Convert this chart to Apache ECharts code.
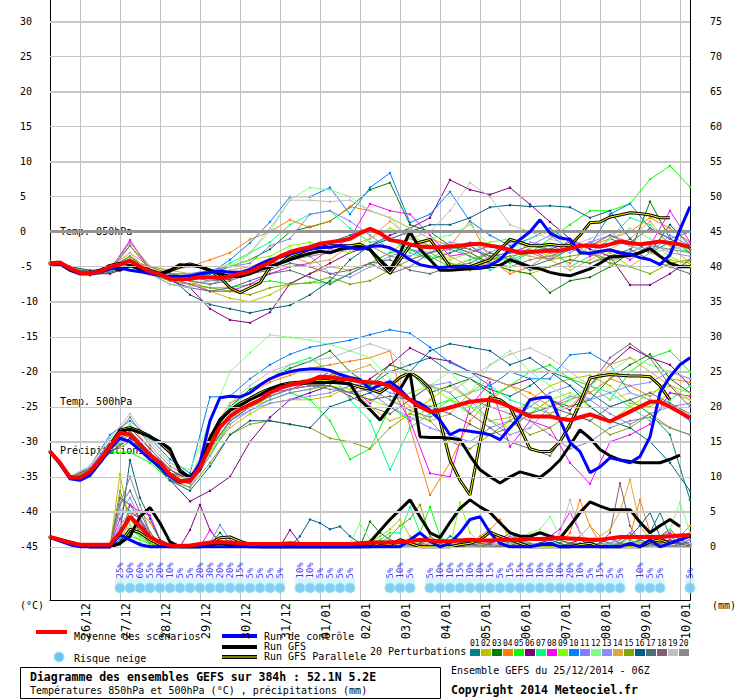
<!DOCTYPE html>
<html>
<head>
<meta charset="utf-8">
<script src="https://cdn.jsdelivr.net/npm/echarts@6/dist/echarts.min.js"></script>
<style>
  html, body { margin: 0; padding: 0; background: #fff; }
  #chart { width: 740px; height: 700px; }
</style>
</head>
<body>
<div id="chart"></div>
<script>
// run GEFS 25/12/2014 06Z, one point every 6h (0h .. 384h)
var dayLabels = ['26/12','27/12','28/12','29/12','30/12','31/12','01/01','02/01','03/01','04/01','05/01','06/01','07/01','08/01','09/01','10/01'];
var tempTicks = [-45,-40,-35,-30,-25,-20,-15,-10,-5,0,5,10,15,20,25,30];
var precipTicks = [0,5,10,15,20,25,30,35,40,45,50,55,60,65,70,75];

var pertColors = ['#008080','#c0c000','#008000','#ff8000','#00ff00','#800080','#00ff80','#ff00ff','#80ff00','#0080ff',
                  '#8080ff','#80ff80','#8c8cff','#e0a840','#80a800','#005f80','#507078','#806070','#c0c0c0','#888888'];

// ---- 6-hourly lines ----
var t850Mean = [-4.5,-4.4,-5.2, -5.9,-5.9,-5.7,-5.0, -4.7,-4.1,-5.0,-5.7, -6.1,-6.7,-6.8,-6.7, -6.5,-6.5,-6.6,-6.4, -6.0,-5.7,-5.0,-4.4, -3.5,-2.9,-2.5,-2.2, -1.7,-1.5,-1.3,-1.0, -0.2,0.4,-0.2,-1.2, -1.4,-1.8,-2.1,-2.2, -2.2,-2.1,-2.0,-1.8, -1.7,-2.0,-2.2,-2.6, -3.0,-2.9,-2.8,-2.7, -2.7,-2.4,-2.0,-2.0, -2.1,-1.8,-1.4,-1.6, -1.8,-1.6,-1.4,-1.6, -1.8,-2.2];
var t850Ctrl = [-4.6,-4.6,-5.4, -6.0,-6.0,-5.8,-5.3, -5.2,-5.5,-5.7,-6.0, -6.2,-6.4,-6.4,-6.3, -6.0,-5.8,-5.6,-5.8, -5.8,-5.4,-4.6,-4.0, -3.6,-3.2,-2.8,-2.5, -2.3,-2.2,-2.0,-2.3, -2.5,-2.1,-2.0,-2.3, -3.0,-4.0,-4.7,-5.0, -5.1,-5.0,-5.0,-5.0, -5.1,-4.8,-4.0,-2.5, -1.1,0.0,1.7,-0.2, -0.9,-1.1,-3.0,-3.1, -2.8,-2.6,-3.0,-3.2, -3.7,-4.0,-4.7,-3.3, 0.3,3.6];
var t850Gfs = [-4.6,-4.6,-5.5, -6.0,-6.0,-5.7,-5.0, -5.5,-4.8,-5.3,-5.8, -6.0,-5.5,-4.7,-4.8, -5.0,-5.5,-6.0,-6.4, -6.4,-6.0,-5.4,-5.0, -4.5,-4.0,-3.5,-3.1, -2.8,-3.0,-2.5,-2.3, -2.1,-2.6,-4.0,-5.4, -3.0,0.0,-2.5,-4.0, -5.5,-5.5,-5.4,-5.3, -5.2,-5.0,-4.8,-4.0, -4.5,-5.0,-5.3,-5.8, -6.1,-6.3,-5.8,-5.3, -4.5,-3.6,-3.5,-3.4, -3.0,-2.4,-3.5,-4.5, -5.0,-5.0];
var t850GfsPara = [-4.5,-4.6,-5.3, -5.8,-5.8,-5.5,-4.8, -4.5,-4.5,-5.0,-5.5, -6.0,-5.6,-5.0,-4.6, -5.0,-5.5,-6.5,-8.0, -8.7,-8.0,-7.3,-5.0, -4.5,-3.5,-3.0,-2.5, -2.2,-2.0,-2.0,-2.0, -1.8,-2.5,-4.5,-5.9, -4.0,-2.0,-1.5,-1.1, -3.0,-5.0,-5.0,-5.0, -4.5,-4.0,-2.5,-1.1, -1.5,-2.0,-2.0,-1.8, -2.0,-2.0,-0.5,1.3, 1.4,2.1,2.4,2.7, 2.6,2.4,2.0,2.0, null,null];

var t500Mean = [-31.4,-33.0,-35.1, -35.1,-34.3,-32.6,-30.7, -28.7,-29.0,-30.4,-31.9, -33.0,-34.7,-35.6,-35.6, -33.7,-30.7,-27.9,-26.4, -25.4,-24.7,-24.0,-23.0, -22.3,-21.9,-21.6,-21.3, -20.7,-20.8,-21.0,-21.1, -21.4,-21.5,-21.6,-22.1, -23.0,-24.0,-25.0,-25.7, -25.5,-25.1,-24.7,-24.3, -24.1,-24.0,-24.4,-25.0, -25.7,-26.4,-26.4,-26.4, -26.7,-26.9,-26.5,-26.1, -26.6,-27.1,-26.4,-25.7, -25.0,-24.3,-24.3,-25.0, -25.8,-26.6];
var t500Ctrl = [-31.4,-33.2,-35.3, -35.5,-34.8,-33.0,-31.0, -29.5,-30.0,-31.2,-32.5, -33.6,-35.0,-35.8,-35.5, -33.0,-27.0,-23.7,-23.5, -23.6,-23.0,-21.9,-21.0, -20.4,-20.0,-19.7,-19.6, -19.6,-19.8,-20.4,-20.8, -21.1,-22.5,-21.9,-21.4, -22.5,-24.0,-24.5,-25.5, -26.9,-29.0,-28.3,-28.5, -28.7,-29.0,-29.7,-28.0, -26.4,-24.0,-23.7,-23.6, -26.9,-30.1,-31.4,-34.4, -33.6,-32.3,-32.6,-33.0, -32.1,-29.3,-23.0,-20.7, -19.0,-18.0];
var t500Gfs = [-31.4,-33.0,-35.0, -35.3,-34.5,-32.8,-30.8, -28.5,-28.2,-28.7,-29.3, -30.0,-31.0,-34.3,-35.0, -33.5,-29.5,-26.8,-25.5, -24.8,-24.0,-23.3,-22.5, -22.0,-21.8,-21.7,-21.6, -21.6,-21.5,-21.6,-21.7, -24.0,-25.4,-26.9,-25.0, -22.5,-20.1,-29.3,-29.4, -29.4,-29.5,-29.7,-32.0, -34.0,-35.0,-35.9,-35.0, -34.3,-34.7,-35.1,-34.0, -32.6,-30.5,-28.3,-29.5, -31.1,-32.0,-32.6,-32.8, -33.0,-33.0,-33.0,-32.5, -31.9,null];
var t500GfsPara = [-31.4,-33.1,-35.0, -35.3,-34.5,-32.7,-30.5, -28.3,-28.0,-28.5,-29.2, -30.2,-31.5,-34.0,-35.2, -34.0,-30.0,-27.0,-25.5, -24.5,-23.8,-23.0,-22.4, -21.9,-21.6,-21.5,-21.3, -21.2,-21.3,-21.5,-21.8, -22.2,-22.5,-23.0,-22.0, -20.8,-20.1,-21.0,-22.4, -27.0,-32.6,-35.5,-37.6, -30.0,-23.7,-24.0,-25.0, -28.0,-31.0,-31.4,-31.4, -30.0,-27.5,-24.4,-20.9, -20.6,-20.4,-20.5,-20.6, -20.6,-20.7,-22.0,-24.0, null,null];

var precMean = [1.4,1.0,0.6, 0.3,0.3,0.3,0.3, 2.0,4.3,2.9,1.4, 0.6,0.2,0.1,0.2, 0.4,0.6,0.7,0.6, 0.5,0.4,0.4,0.4, 0.4,0.5,0.4,0.4, 0.4,0.4,0.4,0.4, 0.5,0.6,0.6,0.6, 0.7,0.8,1.0,0.9, 0.8,0.8,0.9,1.0, 0.9,0.9,1.0,1.0, 1.0,1.1,1.1,1.2, 1.3,1.2,1.1,1.0, 1.0,1.2,1.4,1.4, 1.4,1.4,1.4,1.5, 1.6,1.7];
var precCtrl = [1.3,0.8,0.3, 0,0,0,0, 1.7,1.0,0.3,0, 0,0,0,0, 0,0,0,0, 0,0,0,0, 0,0,0,0, 0,0,0,0, 0,0,0,0, 0,1.0,2.0,0.8, 0,0.5,2.0,3.9, 4.3,2.0,0.5,0, 0,0,0.3,0.5, 0,0,0,0, 0,0,0,0.5, 0,1.0,0,0.5, 1.0,1.5];
var precGfs = [1.4,1.0,0.7, 0.3,0,0,0, 0.5,1.5,4.3,5.6, 3.4,0.7,0,0, 0,0.3,0.5,0.3, 0.2,0,0,0, 0,0,0,0, 0,0,0,0, 0,0.7,2.3,3.9, 5.3,6.7,4.3,2.0, 1.3,3.5,5.5,6.7, 5.7,4.9,3.4,2.0, 1.5,1.5,2.0,1.5, 1.2,3.0,4.9,6.4, 5.8,5.3,5.3,5.3, 3.5,2.0,3.0,3.9, 2.9,null];
var precGfsPara = [1.4,0.9,0.5, 0.2,0,0,0, 0.5,2.5,2.0,1.0, 0.3,0,0,0, 0,0.5,1.3,1.4, 0.8,0.3,0,0, 0,0,0,0, 0,0,0,0, 0,0,0.5,0.3, 1.0,0.5,0,0, 0,0,0.3,0.5, 1.0,2.1,1.5,1.0, 0.5,0,0,0, 0,0,0.3,0.5, 0,0,0,0, 0,0.7,1.0,0.5, null,null];

// snow risk (%) per 6h step, null = none
var snowRisk = [null,null,null, null,null,null,null, 25,50,60,55, 20,10,5,5, 20,30,20,20, 15,5,5,5, 5,null,10,10, 5,5,5,5, null,null,null,5, 10,5,null,5, 10,10,15,10, 10,15,5,15, 15,10,10,10, 10,20,10,5, 15,5,5,null, 10,5,5,null, null,5];

// ---- 20 perturbations, temperatures every 12h ----
var t850Pert = [
  [-4.5,-5.0,-5.8,-5.2,-3.5,-5.5,-6.0,-6.5,-7.0,-6.8,-5.5,-4.5,-3.0,-2.0,-1.5,-0.5,0.5,-1.0,-2.5,-4.0,-3.0,-2.0,-4.0,-3.5,-5.0,-4.0,-2.5,-3.0,-1.0,-2.0,-3.0,-1.5,-2.5],
  [-4.4,-5.1,-6.0,-5.0,-2.0,-5.0,-6.5,-7.0,-8.5,-9.5,-10.0,-9.0,-7.5,-6.0,-5.0,-5.5,-4.5,-3.0,-1.0,-2.0,-4.5,-5.0,-3.5,-5.5,-6.0,-5.0,-4.0,-4.5,-3.0,-5.0,-3.0,-4.0,-4.5],
  [-4.4,-5.2,-6.0,-5.5,-4.5,-5.5,-6.0,-6.5,-6.0,-5.0,-4.0,-2.5,0.0,0.7,1.5,3.5,6.0,7.0,1.0,0.0,-2.0,-3.0,-4.5,-5.5,-6.0,-8.7,-7.0,-6.5,-5.0,-3.0,4.3,-1.0,-3.0],
  [-4.6,-5.0,-5.7,-5.4,-4.0,-5.0,-5.5,-5.0,-4.0,-3.0,-1.1,0.0,1.7,0.6,1.5,3.6,3.0,2.0,0.5,-1.0,-2.0,1.5,-4.0,-6.0,-5.0,-3.0,-4.5,-2.0,-1.0,0.0,2.0,0.5,-1.5],
  [-4.4,-5.0,-6.2,-5.8,-5.0,-6.0,-7.0,-7.5,-8.0,-8.0,-7.5,-7.0,-7.5,-7.3,-7.3,-6.0,-4.5,-3.0,-2.5,-3.5,-5.0,-4.0,-3.0,-4.5,-3.0,-1.0,1.0,3.0,3.0,4.0,7.5,9.4,6.4],
  [-4.5,-5.2,-6.0,-6.0,-5.0,-6.0,-7.0,-8.0,-11.0,-12.6,-13.0,-11.5,-7.4,-6.0,-4.5,-3.0,-2.0,-0.5,0.5,2.0,7.4,6.0,5.3,6.3,3.9,1.4,-1.0,-2.5,-3.5,-7.6,-7.6,-6.0,-4.0],
  [-4.5,-5.1,-5.8,-5.6,-4.5,-5.5,-6.5,-7.0,-6.0,-4.5,-3.0,-1.5,1.0,2.5,3.0,0.5,-1.5,-1.0,-3.0,-4.0,-2.0,-3.5,-5.5,-4.0,-3.0,-2.0,-5.0,-3.5,-1.0,2.0,1.0,-2.0,-3.0],
  [-4.6,-5.2,-6.0,-5.5,-1.2,-5.5,-6.5,-7.5,-8.5,-8.5,-7.5,-6.0,-5.0,-4.5,-2.5,-1.0,4.0,3.0,2.5,-0.5,-3.5,-3.0,-2.0,-3.0,-2.5,-4.0,-1.0,-3.5,-2.5,-4.0,-2.0,3.0,-1.5],
  [-4.4,-5.0,-5.8,-5.3,-4.5,-5.0,-6.0,-6.0,-5.5,-5.0,-4.0,-3.5,-2.0,-1.5,-2.5,-3.0,-1.0,0.5,-0.5,-2.0,-4.0,-3.0,-1.5,-1.0,-2.5,-3.5,-2.0,-3.0,-4.5,-3.0,-1.5,-3.5,-5.0],
  [-4.5,-5.0,-5.8,-5.5,-4.5,-5.5,-6.5,-6.5,-6.0,-4.0,-1.6,1.4,5.0,5.0,6.3,2.5,6.3,8.4,1.3,2.5,5.7,1.5,-0.5,-2.0,-1.0,0.5,-1.5,-2.0,2.5,4.0,0.5,-1.0,0.0],
  [-4.6,-5.1,-5.9,-5.5,-4.0,-5.5,-6.0,-6.0,-5.5,-5.0,-4.5,-2.0,-1.0,2.5,3.0,1.5,-0.5,-2.5,-3.5,-2.0,-2.5,-1.5,-3.0,-1.5,-2.0,-0.5,-2.5,-1.5,-0.5,-2.0,-3.0,-0.5,-2.0],
  [-4.3,-5.0,-6.0,-5.5,-4.0,-5.5,-6.5,-7.0,-6.5,-5.0,-3.0,0.0,4.6,6.3,6.0,5.0,3.0,2.0,0.5,-1.0,-0.5,1.0,-2.0,-2.5,-1.0,0.0,-2.0,-3.0,-1.0,0.5,-1.0,-2.0,-2.5],
  [-4.5,-5.2,-6.0,-5.6,-4.5,-6.0,-7.0,-7.5,-7.0,-6.5,-5.5,-4.5,-3.0,-3.5,-6.0,-6.5,-5.0,-3.5,-2.5,-3.0,-1.5,-2.0,-3.5,-4.0,-1.5,-2.0,-3.0,-1.5,-2.5,-3.0,-1.5,-3.0,-3.5],
  [-4.5,-5.0,-5.7,-5.0,-3.0,-5.0,-5.5,-6.0,-6.5,-5.5,-5.0,-4.0,-3.5,-4.5,-4.0,-2.0,-1.0,1.5,-1.0,-2.0,-3.5,-5.0,-4.5,-3.0,-3.5,-4.0,-5.5,-4.0,-2.5,-1.0,1.5,-2.0,-4.5],
  [-4.4,-5.1,-6.0,-5.5,-3.5,-6.0,-7.0,-7.5,-8.0,-8.5,-9.0,-8.0,-7.5,-7.3,-6.5,-7.5,-7.0,-5.5,-4.0,-3.0,-4.5,-5.5,-4.0,-3.5,-3.0,-4.0,-3.5,-3.0,-4.5,-5.0,-6.0,-4.5,-4.0],
  [-4.5,-5.0,-5.5,-5.5,-5.0,-5.5,-6.5,-9.0,-10.4,-11.0,-11.6,-11.0,-10.5,-9.0,-7.0,-4.0,-2.0,-1.0,0.0,1.0,1.0,2.0,3.5,3.8,3.6,3.7,3.5,2.0,3.0,-1.0,-3.0,1.0,-2.0],
  [-4.6,-5.2,-6.2,-5.8,-5.0,-6.0,-7.5,-8.0,-8.5,-8.0,-7.0,-6.0,-5.5,-6.5,-7.5,-6.0,-4.5,-4.0,-5.5,-6.0,-5.0,-4.5,-3.0,-4.0,-5.5,-5.0,-4.0,-4.5,-3.5,-2.5,-4.0,-5.0,-6.0],
  [-4.5,-5.1,-6.0,-5.6,-2.0,-5.5,-6.5,-7.0,-7.5,-7.0,-6.0,-5.5,-4.5,-5.0,-6.0,-5.5,-4.5,-6.0,-5.0,-3.0,-2.0,-2.5,-3.5,-3.0,-2.0,-2.5,-1.5,-2.0,-0.5,-1.5,0.5,-1.0,-2.5],
  [-4.3,-5.0,-6.0,-5.5,-3.0,-6.0,-7.5,-8.0,-7.0,-6.0,-3.0,0.5,4.5,4.5,4.3,4.5,3.0,2.0,-1.0,0.0,3.0,7.0,5.0,1.0,0.0,-1.0,-2.0,-1.0,0.0,-2.0,-3.0,-2.5,-2.0],
  [-4.5,-5.1,-5.9,-5.4,-1.5,-5.0,-6.0,-7.0,-7.5,-6.5,-5.5,-4.5,-4.0,-3.5,-3.0,-2.5,-2.0,-3.5,-4.0,-3.0,-2.5,-3.5,-4.5,-5.0,-4.0,-3.5,-2.5,-3.0,-4.0,-3.5,-2.0,-2.5,-3.0]
];
var t500Pert = [
  [-31.4,-35.2,-34.2,-30.5,-28.5,-31.5,-34.5,-35.5,-31,-27,-25,-23,-22,-21.5,-20.5,-21,-22,-20,-19,-18,-20,-21,-22.5,-23.5,-22,-20,-21,-23,-25,-24,-26,-29,-38.3],
  [-31.4,-35,-34,-30,-27.5,-31,-34,-35.5,-31.5,-28,-26,-24.5,-24,-24,-23.5,-22,-25,-27,-26,-24,-22,-24,-27,-26.5,-24,-22,-21,-20.5,-22,-24.5,-25,-23,-24],
  [-31.4,-35.2,-34.5,-31,-29.5,-32,-35,-36,-30,-25,-22.5,-21,-19.5,-18.5,-17,-20,-22,-19,-20,-23,-22,-21,-23,-25,-26,-24,-25,-24,-21,-19,-17.5,-21,-23],
  [-31.4,-35,-34.2,-30.8,-28.5,-31.5,-34,-35.5,-29,-24.5,-23,-21.5,-20.5,-19.5,-19,-18.5,-18,-17,-28,-37.6,-33,-27,-24,-22,-23,-25,-24,-23,-21,-22,-23.5,-21,-21.5],
  [-31.4,-35.3,-34.8,-31.5,-31.5,-33,-35.5,-36,-32,-27,-25,-24,-23,-24,-27,-32.5,-31,-25,-27,-25,-24,-26,-23.5,-22,-20,-19,-21,-22,-24,-20,-18,-17,-20],
  [-31.4,-35.2,-34,-31,-29.5,-32,-35.5,-38.5,-37,-35,-30,-26.5,-24,-23,-22,-23,-21,-19,-16.6,-18,-18.5,-20,-21,-22,-21,-24,-25.5,-22,-19,-16.5,-18,-19,-22],
  [-31.4,-35,-34,-30.5,-29,-31.5,-34.5,-35,-30,-25,-23,-21,-19,-18,-20,-24,-27,-34,-28,-26,-24,-23,-22,-24,-25,-26,-24,-22,-23,-25,-27,-24,-22],
  [-31.4,-35,-33.8,-30,-28,-31,-34,-35.5,-30.5,-26,-24,-23,-22.5,-21.5,-20,-22,-24.5,-22,-27,-34.5,-35,-25,-21.5,-30.7,-27,-28,-33,-36,-30,-29,-27.5,-23,-23.5],
  [-31.4,-35.1,-34.3,-31,-29.5,-32.5,-35,-36,-31.5,-27,-25,-24,-23,-22.5,-22,-22.5,-24,-25,-23,-22,-24,-25,-27,-28,-26,-24,-23,-25,-27,-25,-23,-22,-24],
  [-31.4,-35,-33.5,-29,-27,-29.5,-32.5,-34.5,-23.6,-23.5,-21,-19,-17.5,-16.5,-16,-15.5,-14.7,-14,-14.5,-16.5,-18.7,-20,-22,-20,-21,-21,-17.6,-17.3,-19,-23,-24,-25,-27],
  [-31.4,-35.2,-34.5,-31,-29,-32,-35,-36,-31,-27,-25.5,-24,-23,-22.5,-21.5,-21.5,-23,-25,-26.5,-28,-29,-30,-28,-27,-25,-23,-22,-24,-26,-27.5,-26,-25,-24.5],
  [-31.4,-35,-33.5,-29.5,-27.5,-30,-33,-34,-27,-20,-17.3,-14.7,-15.1,-15.5,-16.1,-17,-18,-21,-24,-22,-20,-23,-19,-17,-20,-22,-24,-22,-20,-18,-19,-20,-21],
  [-31.4,-35.3,-34.6,-31.5,-29.5,-32.5,-35.5,-36.5,-32,-27.5,-25.5,-24.5,-24,-23.5,-23,-22,-21.5,-23,-24,-22,-21.5,-24,-27,-29,-28,-25,-23.5,-24,-23,-22,-21.5,-20,-21],
  [-31.4,-35,-34.2,-30.5,-29,-32,-34.5,-35.5,-30.5,-26,-24,-22.5,-21.5,-21,-20.5,-20,-19,-22,-25,-27,-26,-23,-21,-22,-24,-26,-25,-22,-19,-18,-20,-22,-23],
  [-31.4,-35.1,-34.5,-31.5,-30,-32.5,-35.5,-36.5,-33,-29,-27.5,-27,-27.5,-28,-29.5,-30,-31,-28,-26,-27,-30,-31,-29,-27,-29,-28,-26,-27,-29,-28,-26,-28,-29],
  [-31.4,-35.2,-34.7,-31.5,-29.5,-32.5,-35.5,-37,-33.5,-29,-27,-27,-27.5,-28,-25,-24,-23,-22,-20,-17,-16,-16.5,-17,-19,-18,-20,-22,-25,-27,-28,-30,-33,-37],
  [-31.4,-35,-34,-30.5,-28.5,-31.5,-34.5,-35,-31,-27,-25,-23.5,-22.5,-22,-22,-23,-24,-23.5,-24,-25,-26,-27.5,-29,-28,-26,-25,-26,-27,-25,-24,-23,-24.5,-26],
  [-31.4,-35,-33.8,-30.5,-28,-31,-34,-35.5,-31,-27,-25,-23.5,-22.5,-22,-22,-23.5,-25,-26,-24,-22,-23,-26,-28,-30,-31,-32,-28,-22,-18,-16,-18,-22,-25],
  [-31.4,-35,-33.5,-29.5,-26,-30,-33,-35,-29.5,-24.5,-22,-20,-19,-18.5,-18,-17,-16,-17,-20,-22,-23,-21,-19,-17.5,-16.6,-18,-20,-22,-24,-23,-24,-25,-26],
  [-31.4,-35.1,-34,-30,-26.5,-30.5,-33.5,-35,-31,-27,-25,-23.5,-22.5,-22,-22.5,-23,-22.5,-24,-25.5,-26.5,-25,-24,-25,-26,-27,-29,-31,-30,-28,-27,-26.5,-28,-29]
];
// precipitation of the perturbations, every 6h (mm)
var precPert = [
  [1.4,1.0,0.5, 0.2,0,0,0, 1,6,4,2, 0.5,0,0,0, 0,0,0.5,0.3, 0,0,0,0, 0,0,0.3,0.5, 0.3,0,0,0, 0,0,0,0.5, 1.0,0.5,0,0, 0.3,1.5,1.0,0, 0,0.5,1.0,2.0, 0.8,0,0,0.5, 1.0,0.3,0,0, 0.5,1.2,0.5,0, 1.0,2.0,4.9,1.5, 0.5,0],
  [1.4,0.9,0.5, 0.3,0,0,0, 10.4,3,1.5,0.5, 0,0,0,0, 0,0,0,0, 0,0,0.3,0, 0,0,0,0, 0,0,0,0, 0,0.5,1.5,2.5, 3.9,1.5,0.5,0, 0,0.5,0.8,0.3, 0,0,0.5,1.0, 0.5,0,0,0, 0,0.5,1.0,0.5, 0,0,0.3,0.5, 0.2,0,0,0.5, 1.0,0.5],
  [1.4,1.0,0.6, 0.2,0,0,0, 2,5,2,1, 0.3,0,0,0, 0,0.3,2.0,0.5, 0,0,0,0, 0,0,0,0.3, 0.5,0.3,0,0, 0,3.6,2.0,1.0, 0.5,0,0,0, 0,0,0.5,1.0, 0.5,0,0,0, 0,0.3,0.5,0, 0,0,0,0.5, 1.0,0.5,0,0, 0,0.5,1.5,2.5, 1.0,0.3],
  [1.4,0.9,0.5, 0.2,0,0,0, 0.5,4,5,3.5, 1,0.3,0,0, 0,0,0,0, 0,0,0,0, 0,0,0,0, 0,0,0,0.3, 0.5,0,0,0.5, 1.0,0.5,0,0.5, 1.0,0.3,0,0.5, 1.5,2.5,3.9,1.0, 0,0.5,0,0, 0.5,2.0,6.7,3.0, 0.5,0,1.0,1.5, 6.7,2.0,0.5,0, 1.5,3.0],
  [1.3,0.9,0.5, 0.2,0,0,0, 0.3,1.5,1,0.5, 0,0,0,0, 0,0,0,0, 0,0,0,0, 0,0,0,0, 0,0,0,0, 0,0.5,1.0,0.5, 0,0.5,2.0,5.7, 1.5,0.3,0,0, 0,0,0,0.5, 1.0,0.5,0,0, 0,0,0.3,0.5, 0,0,0,0, 0.5,1.0,0.5,0, 0,0.5],
  [1.4,1.0,0.5, 0.2,0,0,0, 3,5,4,1.5, 0.5,0,0,2.4, 6.0,2.4,0.5,0, 0,0,0,0, 0,2.4,0.5,0, 0,0,0,0, 0,0,0,0, 0,0.5,0.3,0, 0,0,0,0, 0,0.5,1.0,0.5, 0,0,0,0, 0,0.5,1.0,0.3, 0,0,0,0, 0,0,0.5,1.0, 0.5,0],
  [1.4,1.0,0.5, 0.3,0,0,0, 1,2.5,1.5,0.5, 0,0,0,0, 0,0,0,0, 0,0,0,0, 0,0,0,0, 0,0,0,0, 0,0.5,1.0,2.0, 2.0,5.7,2.0,0.5, 0,0,0.3,0.5, 0.5,0,0,0, 0,0,0.5,1.0, 0.5,0,0,0, 0,0.3,0.5,0, 0,0,0,0, 0.5,1.0],
  [1.4,1.0,0.5, 0.2,0,0,0, 4,6,5,4.5, 1,0.3,0,0, 0,2.4,0.5,0, 0,0,0,0, 0,0,0,0, 0,0,0,0.3, 0.5,0,0,0, 0,0,0.5,0.3, 0,0.5,1.0,0.5, 0,0,0.3,0, 0,0,0.5,1.5, 2.5,5.0,2.0,0.5, 0,0,0.5,0, 0,0.5,1.5,2.0, 1.0,0.5],
  [1.4,0.9,0.5, 0.2,0,0,0, 0.5,2,1,0.3, 0,0,0,0, 0,0,0,0, 0,0,0,0, 0,0,0,0, 0,0,0,0, 0,0,0.3,0.5, 1.0,0.5,0.5,1.5, 0.5,0,6.3,2.0, 0.5,0,0,0, 0,0,0,0.3, 0.5,0,0,0, 0,0,0.5,1.0, 0.5,0,0,0, 0,0],
  [1.3,0.9,0.5, 0.2,0,0,0, 1,1,0.5,0, 0,0,0,0, 0,0,0,0, 0,0,0,0, 0,0,0,0, 0,0,0,0, 0,0,0,0.3, 0.5,0,0,0, 0,0.3,0.5,0, 0,0,0,0, 0.3,0.5,0,0, 0,0,0,0.3, 0,0,0,0, 0.3,0.5,0,0, 0,0.3],
  [1.4,1.0,0.5, 0.2,0,0,0, 2.5,4,3.5,1.5, 0.3,0,0,0, 0,0.5,3.1,1.0, 0.3,0,0,0, 0,0,0,0, 0,0,0,0, 0,0,0.5,1.0, 0.5,0,0,0, 0,0,0,0.5, 1.0,0.5,0,0, 0,0,0.3,0.5, 0,0,0,0, 0,0.5,1.5,1.0, 0,0,0.5,0, 0.5,1.0],
  [1.4,1.0,0.5, 0.2,0,0,0, 1.5,3,2,0.5, 0,0,0,0, 0,0,0,0, 0,0,0,0, 0,0,0,0, 0,0,0,0.5, 3.4,1.0,0,0, 0,0,0,0.3, 0.5,0,0,0, 0,0,0.5,0.5, 1.0,2.0,2.5,4.3, 1.5,0,0,0, 0,0,0,0.5, 1.0,2.0,1.0,2.5, 6.4,2.0],
  [1.4,1.0,0.5, 0.2,0,0,0, 5,7,4,2, 0.5,0,0,0, 0,0,0,0, 0,0,0,0, 0,0,0,0, 0,0,0,0, 0,0,0,0.5, 0.5,0,0,0, 0,0.5,0.5,0, 0,0.3,0.5,1.5, 1.0,0.3,0,0, 0,0,0,0.3, 0.5,0.5,1.0,2.0, 1.0,0.3,0,0, 0,0.5],
  [1.4,0.9,0.5, 0.2,0,0,0, 1.5,4,2.5,1.5, 0.3,0,0,0, 0,0,0,0, 0,0,0,0, 0,0,0,0, 0,0,0,0, 0,0,0,0, 0,0.3,0.5,0, 0,0,0,0, 0.3,0.5,0.3,0, 0,0,0,0.3, 0.5,1.0,1.5,3.0, 1.5,2.5,5.0,9.6, 3.0,1.0,0.5,0.5, 1.0,2.0],
  [1.4,1.0,0.5, 0.2,0,0,0, 8,4,2,0.5, 0,0,0,0, 0,0,0,0, 0,0,0,0, 0,0,0,0, 0,0,0,0, 0,0,0.5,1.5, 3.0,4.0,6.0,1.5, 0.5,0,0,0, 0,0,0,0.5, 0.5,0,0,0, 0,0.5,0.3,0, 0,0,0,0, 0.5,1.0,0.5,0, 0,0],
  [1.4,1.0,0.5, 0.2,0,0,0, 2,12.4,7,4, 1,0.3,0,0, 0,0,0,0, 0,0,0,0, 0,0,1.5,3.9, 3.4,2.5,2.9,1.5, 0.5,0,0,0, 0,0,0,0, 0,0,0.5,0.5, 0,0,0,0, 0,0,0.5,1.0, 0.5,0,0,0, 0,0,0.5,1.5, 3.0,4.9,1.5,0.5, 0.5,0.3],
  [1.4,1.0,0.5, 0.2,0,0,0, 6,8,5,2, 0.5,0,0,0, 0,0,0,0, 0,0,0,0, 0,0,0,0, 0,0,0,0, 0,0.3,0.5,0, 0,0,0.5,1.0, 0.5,0,0,0, 0,0.5,1.0,0.5, 0,0,0,0, 0,0.5,0.5,0, 0,0,0,0.5, 1.0,0.5,0,0, 0.3,0.5],
  [1.4,1.0,0.5, 0.2,0,0,0, 7,6,4,1, 0.3,0,0,0, 0,0,0,0, 0,0,0,0, 0,0,0,0, 0,0,0,0, 0,0,0,0, 0,0.5,0.3,0, 0,0,0,0, 0.5,0.3,0,0, 0,0,0,0.5, 1.0,0.5,0,0, 0.5,2.0,9.1,3.0, 0.5,0,0.5,1.0, 0.5,0.3],
  [1.4,1.0,0.5, 0.2,0,0,0, 3,5,2.5,1, 0,0,0,0, 0,0,0,0, 0,0,0,0, 0,0,0,0, 0,0,0,0, 0,0,0.3,0, 0,0,0,0, 0,0.5,0.3,0, 0,0,0.5,0.5, 0.5,0,0,0.5, 2.0,6.7,2.0,0.5, 0,0,0,0, 0.5,0,0,0, 0,0.5],
  [1.4,1.0,0.5, 0.2,0,0,0, 6,10,6,2, 0.5,0,0,0, 0,0,0,0, 0,0,0,0, 0,0,0,0, 0,0,0,0, 0,0,0,0, 0.5,0.3,0,0, 0,0,0.5,0.3, 0,0,0,0, 0.3,0.5,0,0, 0,0,0.3,0, 0,0,0.5,0.5, 0,0.3,0,0, 0,0]
];

var FONT = '"DejaVu Sans Mono", monospace';
var leadHours = [];
for (var h = 0; h <= 384; h += 6) leadHours.push('+' + h + 'h');
function isDay(i) { return i >= 3 && (i - 3) % 4 === 0; }

var myChart = echarts.init(document.getElementById('chart'), null, { renderer: 'svg' });

function pertLine(values, step, axis, color) {
    return {
        type: 'line', yAxisIndex: axis, silent: true, z: 2,
        data: values.map(function (v, k) { return [k * step, v]; }),
        symbol: 'circle', symbolSize: 2.5,
        lineStyle: { color: color, width: 1 }, itemStyle: { color: color }
    };
}
function bigLine(values, axis, color, width, z) {
    return {
        type: 'line', yAxisIndex: axis, silent: true, z: z, showSymbol: false,
        data: values.map(function (v, i) { return [i, v]; }),
        lineStyle: { color: color, width: width }
    };
}

var series = [];
// horizontal grid lines
series.push({
    type: 'line', yAxisIndex: 0, data: [], z: 1,
    markLine: {
        silent: true, symbol: 'none', animation: false, label: { show: false },
        data: tempTicks.map(function (v) {
            return { yAxis: v, lineStyle: { type: 'solid', color: v === 0 ? '#959595' : '#c6c6c6', width: v === 0 ? 3 : (v % 10 === 0 ? 2 : 1) } };
        })
    }
});
for (var p = 0; p < 20; p++) {
    series.push(pertLine(t850Pert[p], 2, 0, pertColors[p]));
    series.push(pertLine(t500Pert[p], 2, 0, pertColors[p]));
    series.push(pertLine(precPert[p], 1, 1, pertColors[p]));
}
[[t850GfsPara, t850Gfs, t850Ctrl, t850Mean, 0],
 [t500GfsPara, t500Gfs, t500Ctrl, t500Mean, 0],
 [precGfsPara, precGfs, precCtrl, precMean, 1]].forEach(function (g) {
    series.push(bigLine(g[0], g[4], '#000000', 3, 3));
    series.push(bigLine(g[0], g[4], '#ffff00', 1, 3));
    series.push(bigLine(g[1], g[4], '#000000', 3, 4));
    series.push(bigLine(g[2], g[4], '#0000ff', 3, 5));
    series.push(bigLine(g[3], g[4], '#ff0000', 4, 6));
});

// snow risk row
var snowData = [];
snowRisk.forEach(function (v, i) { if (v !== null) snowData.push([i, 'neige', v]); });
series.push({
    type: 'scatter', xAxisIndex: 1, yAxisIndex: 2, silent: true, z: 3,
    data: snowData, symbol: 'rect', symbolSize: [10, 14], symbolOffset: [0, -3],
    itemStyle: { color: '#cdf3fb' }
});
series.push({
    type: 'scatter', xAxisIndex: 1, yAxisIndex: 2, silent: true, z: 4,
    data: snowData, symbol: 'circle', symbolSize: 10,
    itemStyle: { color: '#6cc6ee', borderColor: '#a9e3f7', borderWidth: 1 },
    label: {
        show: true, position: 'top', distance: 4, rotate: 90, align: 'left', verticalAlign: 'middle',
        formatter: function (d) { return d.value[2] + '%'; },
        color: '#0000ff', fontSize: 9, fontFamily: FONT
    }
});

// legend and texts
var graphics = [
    { type: 'text', left: 60, top: 226, style: { text: 'Temp. 850hPa', font: '10px ' + FONT, fill: '#000' } },
    { type: 'text', left: 60, top: 396, style: { text: 'Temp. 500hPa', font: '10px ' + FONT, fill: '#000' } },
    { type: 'text', left: 60, top: 445, style: { text: 'Précipitations', font: '10px ' + FONT, fill: '#000' } },
    { type: 'text', left: 20, top: 600, style: { text: '(°C)', font: '10px ' + FONT, fill: '#000' } },
    { type: 'text', left: 712, top: 600, style: { text: '(mm)', font: '10px ' + FONT, fill: '#000' } },
    { type: 'rect', shape: { x: 36, y: 630, width: 31, height: 4 }, style: { fill: '#ff0000' } },
    { type: 'text', left: 74, top: 631, style: { text: 'Moyenne des scénarios', font: '10px ' + FONT, fill: '#000' } },
    { type: 'circle', shape: { cx: 59, cy: 657, r: 5 }, style: { fill: '#6cc6ee', stroke: '#a9e3f7' } },
    { type: 'text', left: 74, top: 653, style: { text: 'Risque neige', font: '10px ' + FONT, fill: '#000' } },
    { type: 'rect', shape: { x: 222, y: 634, width: 35, height: 4 }, style: { fill: '#0000ff' } },
    { type: 'text', left: 264, top: 631, style: { text: 'Run de contrôle', font: '10px ' + FONT, fill: '#000' } },
    { type: 'rect', shape: { x: 222, y: 645, width: 35, height: 4 }, style: { fill: '#000000' } },
    { type: 'text', left: 264, top: 641, style: { text: 'Run GFS', font: '10px ' + FONT, fill: '#000' } },
    { type: 'rect', shape: { x: 222, y: 655, width: 35, height: 4 }, style: { fill: '#000000' } },
    { type: 'rect', shape: { x: 222, y: 656.5, width: 35, height: 1 }, style: { fill: '#ffff00' } },
    { type: 'text', left: 264, top: 651, style: { text: 'Run GFS Parallele', font: '10px ' + FONT, fill: '#000' } },
    { type: 'text', left: 370, top: 646, style: { text: '20 Perturbations', font: '10px ' + FONT, fill: '#000' } },
    { type: 'rect', shape: { x: 20.5, y: 667.5, width: 420, height: 31 }, style: { fill: 'none', stroke: '#000', lineWidth: 1 } },
    { type: 'text', left: 30, top: 671, style: { text: 'Diagramme des ensembles GEFS sur 384h : 52.1N 5.2E', font: 'bold 11.5px ' + FONT, fill: '#000' } },
    { type: 'text', left: 30, top: 685, style: { text: 'Températures 850hPa et 500hPa (°C) , précipitations (mm)', font: '10px ' + FONT, fill: '#000' } },
    { type: 'text', left: 451, top: 665, style: { text: 'Ensemble GEFS du 25/12/2014 - 06Z', font: '10px ' + FONT, fill: '#000' } },
    { type: 'text', left: 451, top: 684, style: { text: 'Copyright 2014 Meteociel.fr', font: 'bold 11.5px ' + FONT, fill: '#000' } }
];
pertColors.forEach(function (c, k) {
    graphics.push({ type: 'rect', shape: { x: 470 + k * 11, y: 649, width: 10, height: 7 }, style: { fill: c } });
    graphics.push({ type: 'text', left: 470 + k * 11, top: 639, style: { text: (k < 9 ? '0' : '') + (k + 1), font: '8px ' + FONT, fill: '#000' } });
});

var option = {
    animation: false,
    backgroundColor: '#ffffff',
    grid: [
        { left: 50, right: 50, top: 0, bottom: 100 },
        { left: 50, right: 50, top: 582, height: 12 }
    ],
    xAxis: [
        {
            type: 'category', gridIndex: 0, data: leadHours, boundaryGap: false,
            axisLine: { onZero: false, lineStyle: { color: '#000', width: 1 } },
            axisTick: { show: false },
            axisLabel: {
                interval: function (i) { return isDay(i); },
                formatter: function (v, i) { return dayLabels[(i - 3) / 4]; },
                rotate: 90, margin: 3, verticalAlign: 'top',
                fontSize: 12, fontFamily: FONT, color: '#000'
            },
            splitLine: { show: true, interval: function (i) { return isDay(i); }, lineStyle: { color: '#c0c0c0', width: 1 } }
        },
        { type: 'category', gridIndex: 1, data: leadHours, boundaryGap: false, show: false }
    ],
    yAxis: [
        {
            type: 'value', gridIndex: 0, min: -52.6, max: 33.1,
            axisLine: { show: true, lineStyle: { color: '#000' } },
            axisTick: { show: false }, splitLine: { show: false },
            axisLabel: { customValues: tempTicks, margin: 30, align: 'left', fontSize: 10, fontFamily: FONT, color: '#000' }
        },
        {
            type: 'value', gridIndex: 0, position: 'right', min: -7.6, max: 78.1,
            axisLine: { show: true, lineStyle: { color: '#000' } },
            axisTick: { show: false }, splitLine: { show: false },
            axisLabel: { customValues: precipTicks, margin: 20, align: 'left', fontSize: 10, fontFamily: FONT, color: '#000' }
        },
        { type: 'category', gridIndex: 1, data: ['neige'], show: false }
    ],
    graphic: graphics,
    series: series
};

myChart.setOption(option);
</script>
</body>
</html>
